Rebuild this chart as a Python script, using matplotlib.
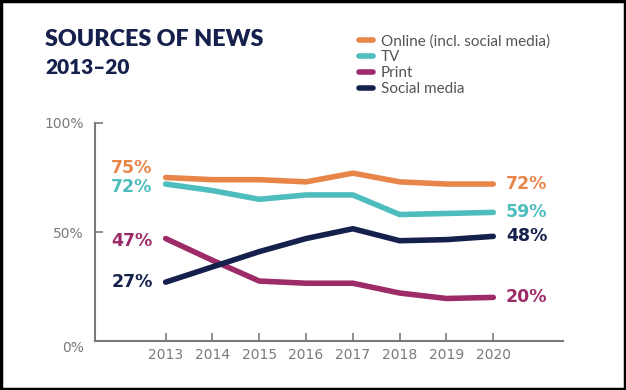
import matplotlib.pyplot as plt

# Data
years = [2013, 2014, 2015, 2016, 2017, 2018, 2019, 2020]
online = [75, 74, 74, 73, 77, 73, 72, 72]
tv = [72, 69, 65, 67, 67, 58, 58.5, 59]
printed = [47, 37, 27.5, 26.5, 26.5, 22, 19.5, 20]
social = [27, 34, 41, 47, 51.5, 46, 46.5, 48]

names = ['Online (incl. social media)', 'TV', 'Print', 'Social media']
colors = ['#E8864A', '#4DBDBD', '#9C2B68', '#15204C']
series = [online, tv, printed, social]
# label nudges (in % units) so the end labels don't collide
left_off = [4.5, -1.5, -1.2, 0]
right_off = [0, 0, 0, 0]

plt.rcParams['font.family'] = ['DejaVu Sans']
grey = '#7a7a7a'

fig = plt.figure(figsize=(6.26, 3.9), dpi=100)
ax = fig.add_axes([95 / 626, 49 / 390, 468 / 626, 218 / 390])

handles = []
for vals, c, n in zip(series, colors, names):
    h, = ax.plot(years, vals, color=c, lw=4, solid_capstyle='round', label=n)
    handles.append(h)

for vals, c, lo, ro in zip(series, colors, left_off, right_off):
    ax.text(years[0] - 0.28, vals[0] + lo, f'{vals[0]:.0f}%', color=c, fontsize=12.5,
            fontweight='bold', ha='right', va='center')
    ax.text(years[-1] + 0.27, vals[-1] + ro, f'{vals[-1]:.0f}%', color=c, fontsize=12.5,
            fontweight='bold', ha='left', va='center')

ax.set_xlim(2011.49, 2021.49)
ax.set_ylim(0, 100)
ax.set_xticks(years)
ax.set_yticks([0, 50, 100])
ax.set_yticklabels(['0%', '50%', '100%'])
for s in ['top', 'right']:
    ax.spines[s].set_visible(False)
for s in ['left', 'bottom']:
    ax.spines[s].set_color(grey)
    ax.spines[s].set_linewidth(1.5)
ax.tick_params(axis='both', direction='in', length=6, width=1.2, color=grey,
               labelcolor=grey, labelsize=10)
ax.tick_params(axis='y', pad=8)
ax.tick_params(axis='x', pad=5)
ax.get_yticklabels()[0].set_va('top')

fig.text(45 / 626, 1 - 40 / 390, 'SOURCES OF NEWS', color='#15204C', fontsize=16.8,
         fontweight='heavy', va='center', ha='left', family='Lato')
fig.text(45 / 626, 1 - 67 / 390, '2013–20', color='#15204C', fontsize=15,
         fontweight='heavy', va='center', ha='left', family='Lato')

fig.legend(handles=handles, loc='upper left', bbox_to_anchor=(353 / 626, 1 - 28 / 390),
           frameon=False, prop={'family': 'Lato', 'size': 11}, handlelength=0.9,
           handletextpad=0.5, labelspacing=0.12, labelcolor='#555555', borderaxespad=0)

# black frame around the image
fig.add_artist(plt.Rectangle((0.002, 0.003), 0.996, 0.994, transform=fig.transFigure,
                             fill=False, edgecolor='black', lw=2.5))

fig.savefig('out.png', dpi=100)
